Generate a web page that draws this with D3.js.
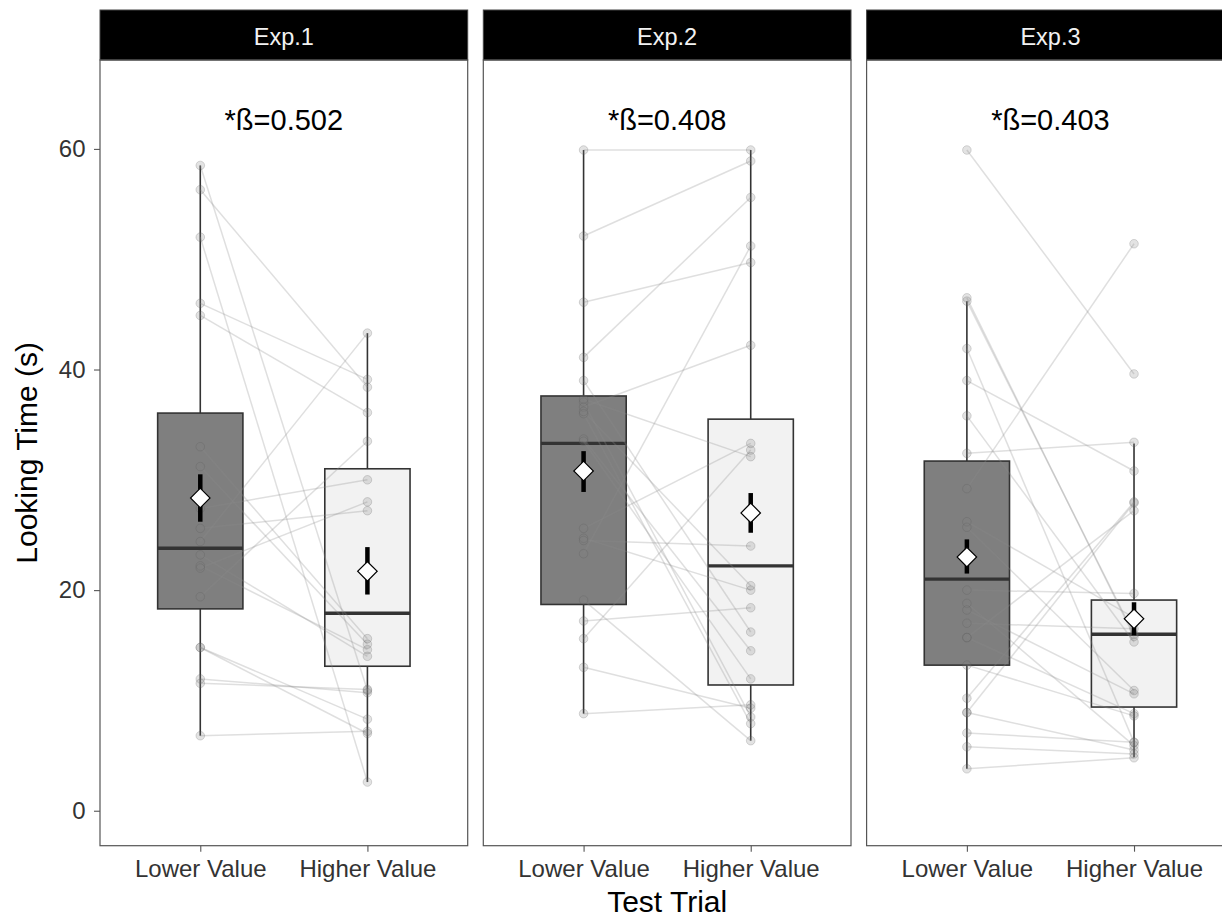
<!DOCTYPE html>
<html>
<head>
<meta charset="utf-8">
<script src="https://cdn.jsdelivr.net/npm/d3@7"></script>
<style>
  html, body { margin: 0; padding: 0; background: #fff; }
  svg { display: block; font-family: "Liberation Sans", Arial, Helvetica, sans-serif; }
</style>
</head>
<body>
<script>
// Facets, categories and labels
const experiments = ["Exp.1", "Exp.2", "Exp.3"];
const trials = ["Lower Value", "Higher Value"];
const betaLabels = ["*ß=0.502", "*ß=0.408", "*ß=0.403"];
const yTicks = [0, 20, 40, 60];

// Paired looking times (s): index i in "lower" belongs with index i in "higher"
const exp1Lower  = [58.5, 56.3, 52.0, 46.0, 44.9, 33.0, 31.2, 27.4, 25.6, 24.4, 23.2, 22.2, 22.0, 19.4, 14.8, 14.8, 11.95, 11.55, 6.8];
const exp1Higher = [10.9, 38.4, 2.6, 39.1, 36.1, 15.6, 15.1, 30.0, 27.2, 43.3, 14.0, 14.6, 28.0, 33.5, 8.3, 7.0, 10.7, 11.0, 7.2];

const exp2Lower  = [59.9, 52.1, 46.1, 41.1, 39.0, 37.05, 37.3, 36.6, 36.0, 33.7, 33.5, 25.6, 24.7, 24.5, 23.3, 19.1, 17.2, 15.6, 13.0, 8.8, 36.2];
const exp2Higher = [59.9, 58.9, 49.7, 55.6, 16.2, 8.5, 32.1, 42.2, 7.9, 14.5, 11.95, 33.3, 20.0, 24.0, 51.2, 6.35, 18.4, 32.7, 9.3, 9.6, 20.4];

const exp3Lower  = [59.9, 46.2, 46.5, 41.9, 39.0, 35.8, 32.4, 29.2, 26.2, 25.7, 20.0, 18.8, 18.2, 17.0, 15.7, 15.7, 13.2, 10.2, 8.9, 8.9, 7.05, 5.8, 3.8];
const exp3Higher = [39.6, 16.0, 15.8, 6.2, 30.8, 15.3, 33.4, 51.4, 17.5, 10.9, 19.7, 5.9, 10.6, 16.5, 27.2, 8.8, 8.6, 28.0, 27.9, 5.5, 6.2, 5.15, 4.8];

// Box summaries per experiment: [Lower Value, Higher Value]
const whiskerLow  = [[6.8, 2.6],   [8.8, 6.35],  [3.8, 4.85]];
const boxQ1       = [[18.3, 13.1], [18.7, 11.4], [13.2, 9.4]];
const boxMedian   = [[23.8, 17.9], [33.3, 22.2], [21.0, 16.0]];
const boxQ3       = [[36.05, 31.0],[37.6, 35.5], [31.7, 19.1]];
const whiskerHigh = [[58.5, 43.3], [59.9, 59.9], [46.2, 33.3]];

// Mean and standard-error range per experiment
const meanValue = [[28.35, 21.7], [30.8, 27.0], [23.0, 17.4]];
const seLow     = [[26.2, 19.6],  [28.9, 25.2], [21.5, 15.9]];
const seHigh    = [[30.5, 23.9],  [32.6, 28.8], [24.6, 18.9]];

const boxFill = ["#7f7f7f", "#f2f2f2"];

const pairedData = [
  [exp1Lower, exp1Higher],
  [exp2Lower, exp2Higher],
  [exp3Lower, exp3Higher]
];

// ---- layout ----
const W = 1222, H = 917;
const panelLeft = 100, panelW = 367.7, panelGap = 15.6;
const stripTop = 10, panelTop = 60, panelBottom = 845.7;

const svg = d3.select("body").append("svg")
  .attr("width", W).attr("height", H);

const y = d3.scaleLinear().domain([-3.17, 68.06]).range([panelBottom, panelTop]);

experiments.forEach((exp, e) => {
  const x0 = panelLeft + e * (panelW + panelGap);
  const x = d3.scalePoint().domain(trials).range([x0, x0 + panelW]).padding(0.6);
  const boxW = x.step() * 0.51;
  const g = svg.append("g");

  // panel background
  g.append("rect")
    .attr("x", x0).attr("y", panelTop)
    .attr("width", panelW).attr("height", panelBottom - panelTop)
    .attr("fill", "#fff");

  // strip
  g.append("rect")
    .attr("x", x0).attr("y", stripTop)
    .attr("width", panelW).attr("height", panelTop - stripTop)
    .attr("fill", "#000").attr("stroke", "#444").attr("stroke-width", 1);
  g.append("text")
    .attr("x", x0 + panelW / 2).attr("y", 44.5)
    .attr("text-anchor", "middle")
    .attr("font-size", 23.5).attr("fill", "#f2f2f2")
    .text(exp);

  // boxplots
  trials.forEach((t, k) => {
    const cx = x(t);
    g.append("line")
      .attr("x1", cx).attr("x2", cx)
      .attr("y1", y(whiskerHigh[e][k])).attr("y2", y(boxQ3[e][k]))
      .attr("stroke", "#333").attr("stroke-width", 1.6);
    g.append("line")
      .attr("x1", cx).attr("x2", cx)
      .attr("y1", y(boxQ1[e][k])).attr("y2", y(whiskerLow[e][k]))
      .attr("stroke", "#333").attr("stroke-width", 1.6);
    g.append("rect")
      .attr("x", cx - boxW / 2).attr("y", y(boxQ3[e][k]))
      .attr("width", boxW).attr("height", y(boxQ1[e][k]) - y(boxQ3[e][k]))
      .attr("fill", boxFill[k]).attr("stroke", "#333").attr("stroke-width", 1.6);
    g.append("line")
      .attr("x1", cx - boxW / 2).attr("x2", cx + boxW / 2)
      .attr("y1", y(boxMedian[e][k])).attr("y2", y(boxMedian[e][k]))
      .attr("stroke", "#333").attr("stroke-width", 3.4);
  });

  // paired lines
  const [lowVals, highVals] = pairedData[e];
  const pairs = lowVals.map((v, i) => [v, highVals[i]]);
  g.append("g").selectAll("line").data(pairs).join("line")
    .attr("x1", x(trials[0])).attr("x2", x(trials[1]))
    .attr("y1", d => y(d[0])).attr("y2", d => y(d[1]))
    .attr("stroke", "#8c8c8c").attr("stroke-opacity", 0.28).attr("stroke-width", 1.5);

  // individual points
  trials.forEach((t, k) => {
    g.append("g").selectAll("circle").data(pairedData[e][k]).join("circle")
      .attr("cx", x(t)).attr("cy", d => y(d)).attr("r", 4.3)
      .attr("fill", "#808080").attr("fill-opacity", 0.22)
      .attr("stroke", "#555").attr("stroke-opacity", 0.22).attr("stroke-width", 1);
  });

  // mean ± SE
  const diamond = d3.symbol(d3.symbolSquare, 190);
  trials.forEach((t, k) => {
    const cx = x(t);
    g.append("line")
      .attr("x1", cx).attr("x2", cx)
      .attr("y1", y(seHigh[e][k])).attr("y2", y(seLow[e][k]))
      .attr("stroke", "#000").attr("stroke-width", 4.5);
    g.append("path")
      .attr("d", diamond())
      .attr("transform", `translate(${cx},${y(meanValue[e][k])}) rotate(45)`)
      .attr("fill", "#fff").attr("stroke", "#000").attr("stroke-width", 1.2);
  });

  // effect annotation
  g.append("text")
    .attr("x", x0 + panelW / 2).attr("y", 130)
    .attr("text-anchor", "middle")
    .attr("font-size", 29).attr("fill", "#000")
    .text(betaLabels[e]);

  // panel border
  g.append("rect")
    .attr("x", x0).attr("y", panelTop)
    .attr("width", panelW).attr("height", panelBottom - panelTop)
    .attr("fill", "none").attr("stroke", "#555").attr("stroke-width", 1.2);

  // x axis
  const xAxis = g.append("g")
    .attr("transform", `translate(0,${panelBottom})`)
    .call(d3.axisBottom(x).tickSize(6).tickPadding(8.5).tickSizeOuter(0));
  xAxis.select(".domain").remove();
  xAxis.selectAll(".tick line").attr("stroke", "#555").attr("stroke-width", 1.1);
  xAxis.selectAll(".tick text")
    .attr("font-size", 24).attr("fill", "#333")
    .attr("font-family", "Liberation Sans, Arial, sans-serif");

  // y axis on first panel only
  if (e === 0) {
    const yAxis = g.append("g")
      .attr("transform", `translate(${x0},0)`)
      .call(d3.axisLeft(y).tickValues(yTicks).tickSize(6).tickPadding(8.5).tickSizeOuter(0));
    yAxis.select(".domain").remove();
    yAxis.selectAll(".tick line").attr("stroke", "#555").attr("stroke-width", 1.1);
    yAxis.selectAll(".tick text")
      .attr("font-size", 24).attr("fill", "#333")
      .attr("font-family", "Liberation Sans, Arial, sans-serif");
  }
});

// axis titles
svg.append("text")
  .attr("transform", `translate(37,${(panelTop + panelBottom) / 2}) rotate(-90)`)
  .attr("text-anchor", "middle")
  .attr("font-size", 30).attr("fill", "#000")
  .text("Looking Time (s)");

svg.append("text")
  .attr("x", panelLeft + (3 * panelW + 2 * panelGap) / 2).attr("y", 912)
  .attr("text-anchor", "middle")
  .attr("font-size", 30).attr("fill", "#000")
  .text("Test Trial");
</script>
</body>
</html>
